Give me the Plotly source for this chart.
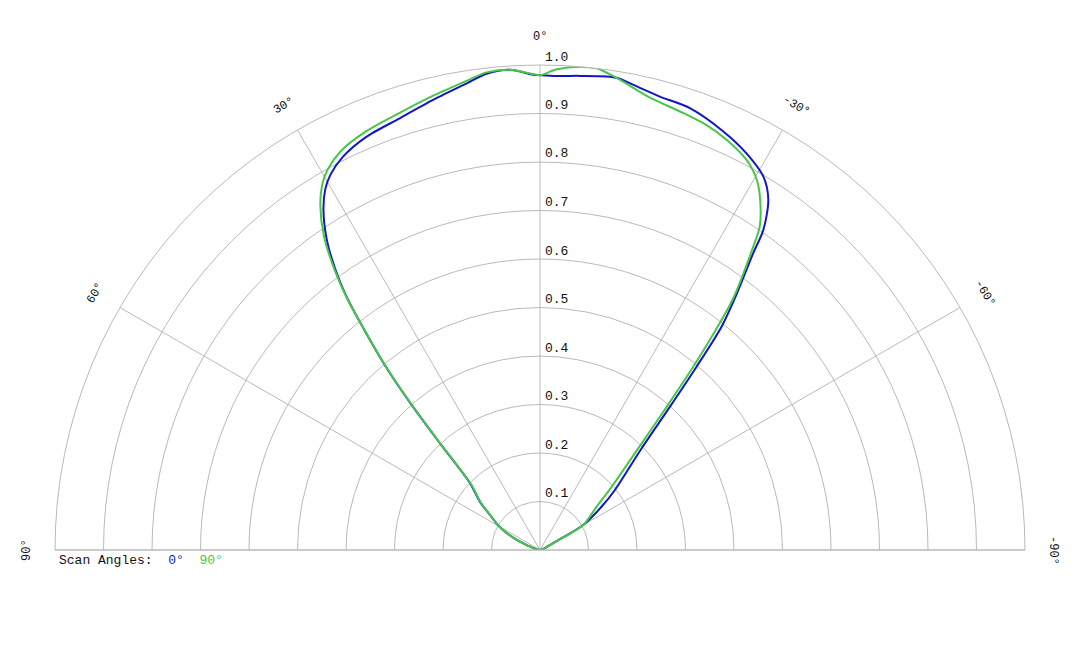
import math
import plotly.graph_objects as go

# Scan angle 0° (blue) : theta in degrees (0 = boresight, + to the left), normalized r
theta_blue = [-90, -63.4, -61.4, -60.0, -54.9, -51.3, -45.0, -42.2, -40.5, -39.1, -37.5,
              -35.7, -34.9, -33.1, -30.9, -27.5, -23.7, -18.8, -14.8, -12.2, -9.4, -8.0,
              -4.8, -2.0, 0.0, 0.8, 3.6, 6.4, 8.9, 13.3, 18.0, 22.8, 26.6, 29.2, 30.8,
              32.5, 34.5, 36.3, 37.5, 40.0, 41.5, 43.2, 46.3, 51.2, 55.0, 60.4, 65.3, 69.4, 90]
r_blue = [0.0, 0.023, 0.055, 0.103, 0.155, 0.198, 0.296, 0.399, 0.497, 0.594, 0.667,
          0.753, 0.805, 0.862, 0.897, 0.922, 0.942, 0.962, 0.967, 0.975, 0.986, 0.986,
          0.981, 0.978, 0.979, 0.980, 0.992, 0.988, 0.974, 0.954, 0.936, 0.924, 0.907, 0.886, 0.865,
          0.831, 0.776, 0.708, 0.650, 0.498, 0.400, 0.300, 0.200, 0.159, 0.126, 0.095, 0.061, 0.029, 0.0]

# Scan angle 90° (green)
theta_green = [-90, -63.4, -61.4, -60.0, -52.6, -48.6, -44.0, -41.5, -39.9, -38.7, -37.5,
               -35.1, -34.2, -32.2, -30.4, -27.9, -24.5, -21.4, -18.2, -13.4, -9.4, -6.7,
               -4.7, -2.0, 0.0, 1.5, 3.6, 6.4, 8.9, 13.3, 18.0, 22.8, 26.6, 29.2, 30.8,
               32.5, 34.5, 36.3, 37.5, 40.0, 41.5, 43.2, 46.3, 51.2, 55.0, 60.4, 65.3, 69.4, 90]
r_green = [0.0, 0.023, 0.055, 0.103, 0.147, 0.197, 0.292, 0.394, 0.493, 0.575, 0.655,
           0.765, 0.806, 0.852, 0.884, 0.910, 0.929, 0.941, 0.948, 0.961, 0.985, 1.000,
           1.000, 0.992, 0.979, 0.984, 0.992, 0.991, 0.979, 0.962, 0.946, 0.934, 0.919, 0.898, 0.877,
           0.843, 0.787, 0.714, 0.653, 0.496, 0.397, 0.297, 0.197, 0.157, 0.125, 0.095, 0.061, 0.029, 0.0]

angle_ticks = [-90, -60, -30, 0, 30, 60, 90]
angle_labels = ["-90°", "-60°", "-30°", "0°", "30°", "60°", "90°"]
radial_ticks = [0.1, 0.2, 0.3, 0.4, 0.5, 0.6, 0.7, 0.8, 0.9, 1.0]
radial_labels = ["0.1", "0.2", "0.3", "0.4", "0.5", "0.6", "0.7", "0.8", "0.9", "1.0"]
legend_names = ["0°", "90°"]

BLUE = "#1414c8"
GREEN = "#46c846"
GRID = "#b9b9b9"
TEXT = "#111111"
FONT = "Liberation Mono, Courier New, monospace"

W, H = 1080, 648
CX, CY, R = 540, 550, 485

fig = go.Figure()
fig.add_trace(go.Scatterpolar(theta=theta_blue, r=r_blue, mode="lines",
                              line=dict(color=BLUE, width=2, shape="spline", smoothing=0.8),
                              name=legend_names[0], hoverinfo="skip"))
fig.add_trace(go.Scatterpolar(theta=theta_green, r=r_green, mode="lines",
                              line=dict(color=GREEN, width=2, shape="spline", smoothing=0.8),
                              name=legend_names[1], hoverinfo="skip"))

annotations = []
label_r = 513
for a, lab in zip(angle_ticks, angle_labels):
    px = CX - label_r * math.sin(math.radians(a))
    py = CY - label_r * math.cos(math.radians(a))
    annotations.append(dict(x=px / W, y=1 - py / H, xref="paper", yref="paper",
                            text=lab, showarrow=False, textangle=-a,
                            xanchor="center", yanchor="middle",
                            font=dict(family=FONT, size=12, color=TEXT)))

for v, lab in zip(radial_ticks, radial_labels):
    py = CY - v * R - 8
    annotations.append(dict(x=(CX + 3) / W, y=1 - py / H, xref="paper", yref="paper",
                            text=lab, showarrow=False, xanchor="left", yanchor="middle",
                            font=dict(family=FONT, size=13, color=TEXT)))

nb = "\u00a0"
legend_text = ("Scan Angles:" + nb * 2 + f"<span style='color:{BLUE}'>{legend_names[0]}</span>"
               + nb * 2 + f"<span style='color:{GREEN}'>{legend_names[1]}</span>")
annotations.append(dict(x=57 / W, y=1 - 560 / H, xref="paper", yref="paper",
                        text=legend_text, showarrow=False, xanchor="left", yanchor="middle",
                        font=dict(family=FONT, size=13, color=TEXT)))

fig.update_layout(
    width=W, height=H,
    margin=dict(l=0, r=0, t=0, b=0),
    paper_bgcolor="white",
    showlegend=False,
    font=dict(family=FONT, size=12, color=TEXT),
    polar=dict(
        domain=dict(x=[(CX - R) / W, (CX + R) / W], y=[(H - CY) / H, (H - CY + R) / H]),
        sector=[0, 180],
        bgcolor="white",
        angularaxis=dict(rotation=90, direction="counterclockwise",
                         tickmode="array", tickvals=angle_ticks, ticktext=angle_labels,
                         showticklabels=False, ticks="",
                         showgrid=True, gridcolor=GRID, gridwidth=1,
                         showline=True, linecolor=GRID, linewidth=1),
        radialaxis=dict(range=[0, 1.0], tickmode="array", tickvals=radial_ticks,
                        ticktext=radial_labels, showticklabels=False, ticks="",
                        showgrid=True, gridcolor=GRID, gridwidth=1,
                        showline=False, angle=0),
    ),
    annotations=annotations,
)

fig.write_html("out.html")
